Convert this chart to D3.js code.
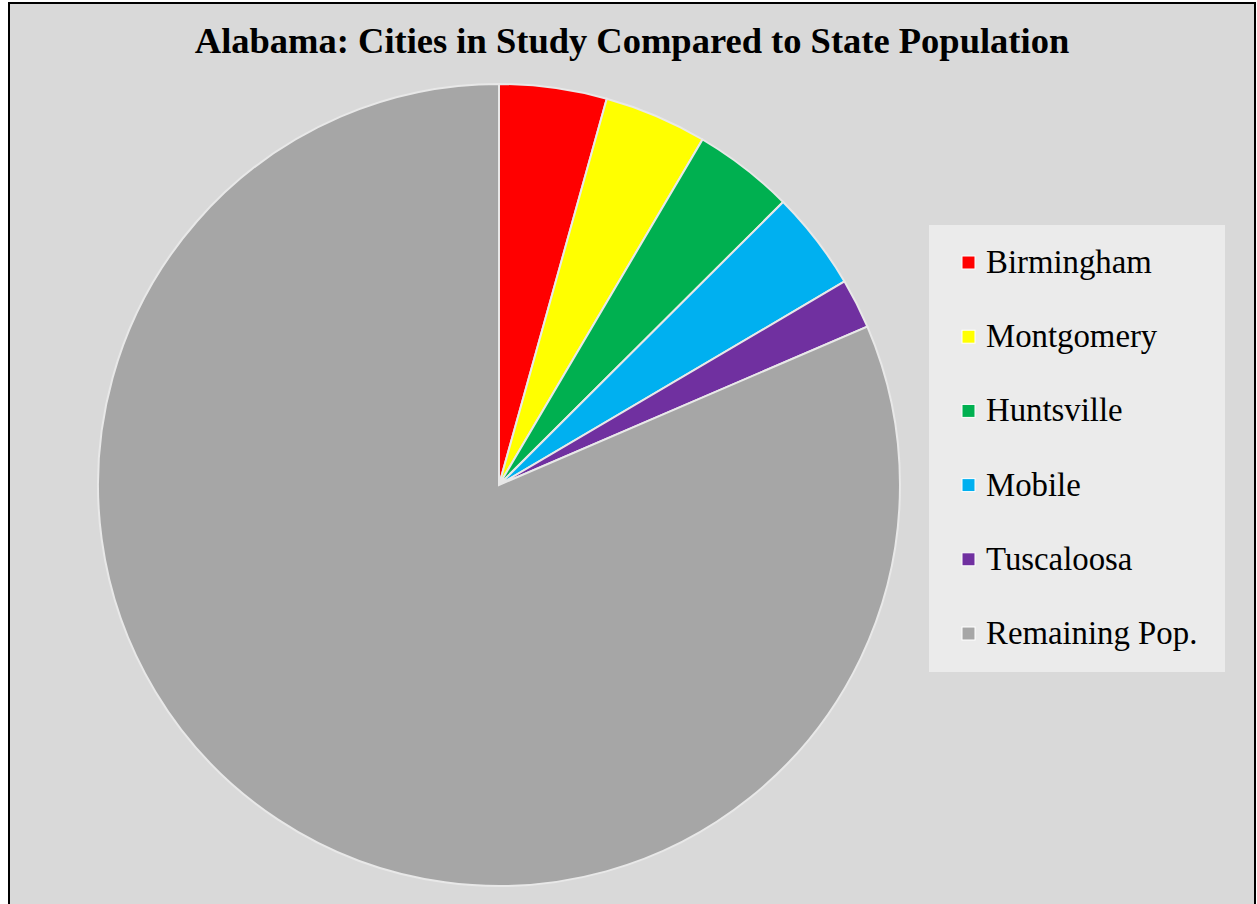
<!DOCTYPE html>
<html><head><meta charset="utf-8">
<script src="https://cdn.jsdelivr.net/npm/d3@7"></script>
<style>body{margin:0;background:#fff}</style>
</head><body>
<script>
const cities = ["Birmingham", "Montgomery", "Huntsville", "Mobile", "Tuscaloosa", "Remaining Pop."];
const population = [207, 198, 194, 191, 96, 3894]; // thousands
const colors = ["#ff0000", "#ffff00", "#00b050", "#00b0f0", "#7030a0", "#a6a6a6"];

const W = 1257, H = 904;
const svg = d3.select("body").append("svg").attr("width", W).attr("height", H);

svg.append("rect").attr("x", 9).attr("y", 3).attr("width", 1246).attr("height", 905)
  .attr("fill", "#d9d9d9").attr("stroke", "#000").attr("stroke-width", 2);

svg.append("text").attr("x", 632).attr("y", 53).attr("text-anchor", "middle")
  .attr("font-family", "Liberation Serif").attr("font-weight", "bold").attr("font-size", 36.5)
  .text("Alabama: Cities in Study Compared to State Population");

const data = cities.map((c, i) => ({ city: c, value: population[i], color: colors[i] }));
const pie = d3.pie().value(d => d.value).sort(null);
const arc = d3.arc().innerRadius(0).outerRadius(401);

svg.append("g").attr("transform", "translate(499,485)")
  .selectAll("path").data(pie(data)).join("path")
  .attr("d", arc).attr("fill", d => d.data.color)
  .attr("stroke", "#e8e8e8").attr("stroke-width", 2);

const legend = svg.append("g");
legend.append("rect").attr("x", 929).attr("y", 225).attr("width", 296).attr("height", 447).attr("fill", "#ebebeb");
const ly = d3.scalePoint().domain(cities).range([262, 633]);
const items = legend.selectAll("g.item").data(data).join("g").attr("class", "item")
  .attr("transform", d => `translate(962,${ly(d.city)})`);
items.append("rect").attr("x", 0).attr("y", -6).attr("width", 13).attr("height", 13)
  .attr("fill", d => d.color).attr("stroke", "#fff").attr("stroke-width", 1);
items.append("text").attr("x", 24).attr("y", 11)
  .attr("font-family", "Liberation Serif").attr("font-size", 32.8).text(d => d.city);
</script>
</body></html>
